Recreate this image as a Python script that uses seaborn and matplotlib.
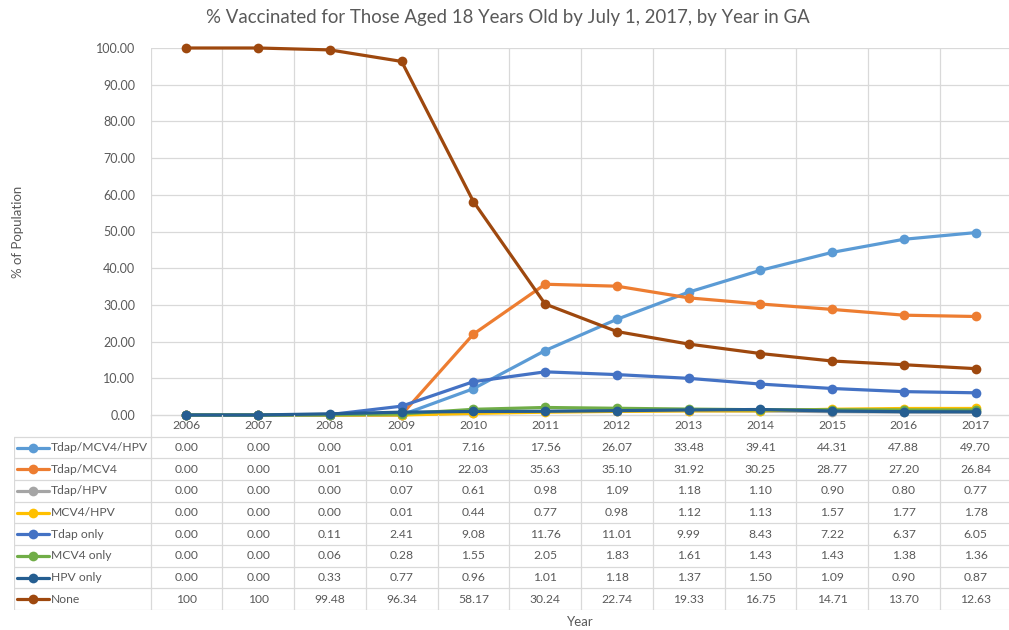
import numpy as np
import pandas as pd
import seaborn as sns
import matplotlib.pyplot as plt

# ---- data -------------------------------------------------------------
years = [2006, 2007, 2008, 2009, 2010, 2011, 2012, 2013, 2014, 2015, 2016, 2017]

tdap_mcv4_hpv = [0.00, 0.00, 0.00, 0.01, 7.16, 17.56, 26.07, 33.48, 39.41, 44.31, 47.88, 49.70]
tdap_mcv4 = [0.00, 0.00, 0.01, 0.10, 22.03, 35.63, 35.10, 31.92, 30.25, 28.77, 27.20, 26.84]
tdap_hpv = [0.00, 0.00, 0.00, 0.07, 0.61, 0.98, 1.09, 1.18, 1.10, 0.90, 0.80, 0.77]
mcv4_hpv = [0.00, 0.00, 0.00, 0.01, 0.44, 0.77, 0.98, 1.12, 1.13, 1.57, 1.77, 1.78]
tdap_only = [0.00, 0.00, 0.11, 2.41, 9.08, 11.76, 11.01, 9.99, 8.43, 7.22, 6.37, 6.05]
mcv4_only = [0.00, 0.00, 0.06, 0.28, 1.55, 2.05, 1.83, 1.61, 1.43, 1.43, 1.38, 1.36]
hpv_only = [0.00, 0.00, 0.33, 0.77, 0.96, 1.01, 1.18, 1.37, 1.50, 1.09, 0.90, 0.87]
none = [100, 100, 99.48, 96.34, 58.17, 30.24, 22.74, 19.33, 16.75, 14.71, 13.70, 12.63]

series_names = ["Tdap/MCV4/HPV", "Tdap/MCV4", "Tdap/HPV", "MCV4/HPV",
                "Tdap only", "MCV4 only", "HPV only", "None"]
series_values = [tdap_mcv4_hpv, tdap_mcv4, tdap_hpv, mcv4_hpv,
                 tdap_only, mcv4_only, hpv_only, none]
series_colors = ["#5B9BD5", "#ED7D31", "#A5A5A5", "#FFC000",
                 "#4472C4", "#70AD47", "#255E91", "#9E480E"]

title = "% Vaccinated for Those Aged 18 Years Old by July 1, 2017, by Year in GA"
y_label = "% of Population"
x_label = "Year"

# ---- style ------------------------------------------------------------
sns.set_theme(style="white")
plt.rcParams['font.family'] = ['Lato', 'DejaVu Sans']
TXT = "#595959"
GRID = "#D9D9D9"
FS_TABLE = 8.7
FS_TICK = 9
FS_LABEL = 9.5

W, H = 1009, 630
fig = plt.figure(figsize=(W / 100, H / 100), dpi=100)

plot_l, plot_r = 150.5, 1011.5
plot_t, plot_b = 48, 415
tab_l, tab_b = 14, 610
ncol = len(years)
colw = (plot_r - plot_l) / ncol

ax = fig.add_axes([plot_l / W, 1 - plot_b / H, (plot_r - plot_l) / W, (plot_b - plot_t) / H])

df = pd.DataFrame({
    "pos": np.tile(np.arange(ncol), len(series_names)),
    "value": np.concatenate(series_values),
    "series": np.repeat(series_names, ncol),
})
palette = dict(zip(series_names, series_colors))
sns.lineplot(data=df, x="pos", y="value", hue="series", hue_order=series_names,
             palette=palette, marker="o", markersize=7, markeredgewidth=0,
             linewidth=2.3, legend=False, sort=False, ax=ax, clip_on=False,
             zorder=3)

ax.set_xlim(-0.5, ncol - 0.5)
ax.set_ylim(0, 100)
ax.set_yticks(np.arange(0, 101, 10))
ax.set_yticklabels([f"{v:.2f}" for v in np.arange(0, 101, 10)], color=TXT, fontsize=FS_TICK)
ax.tick_params(axis="y", length=0, pad=11)
ax.set_xticks([])
ax.set_xlabel("")
ax.set_ylabel("")
for s in ["left", "right", "top"]:
    ax.spines[s].set_visible(False)
ax.spines["bottom"].set_color(GRID)
ax.spines["bottom"].set_linewidth(1.0)
for v in np.arange(10, 101, 10):
    ax.axhline(v, color=GRID, lw=0.9, zorder=0)
for b in np.arange(-0.5, ncol, 1.0):
    ax.axvline(b, color=GRID, lw=0.9, zorder=0)

# ---- data table under the chart --------------------------------------
tax = fig.add_axes([tab_l / W, 1 - tab_b / H, (plot_r - tab_l) / W, (tab_b - plot_b) / H])
x_left = -0.5 - (plot_l - tab_l) / colw
tax.set_xlim(x_left, ncol - 0.5)
nrows = len(series_names) + 1
tax.set_ylim(nrows, 0)
tax.axis("off")


def px2x(px):
    return x_left + (px - tab_l) / colw


for b in np.arange(-0.5, ncol, 1.0):
    tax.plot([b, b], [0, nrows], color=GRID, lw=0.9)
tax.plot([x_left, x_left], [1, nrows], color=GRID, lw=0.9)
for r in range(1, nrows + 1):
    tax.plot([x_left, ncol - 0.5], [r, r], color=GRID, lw=0.9)

for i, y in enumerate(years):
    tax.text(i, 0.5, str(y), ha="center", va="center", color=TXT, fontsize=FS_TABLE)


def fmt(v):
    return f"{v:g}" if v >= 100 else f"{v:.2f}"


for r, (name, vals, col) in enumerate(zip(series_names, series_values, series_colors), start=1):
    yc = r + 0.5
    tax.plot([px2x(17), px2x(49)], [yc, yc], color=col, lw=2.3)
    tax.plot([px2x(33)], [yc], marker="o", color=col, markersize=7, markeredgewidth=0)
    tax.text(px2x(51), yc, name, ha="left", va="center", color=TXT, fontsize=FS_TABLE)
    for i, v in enumerate(vals):
        tax.text(i, yc, fmt(v), ha="center", va="center", color=TXT, fontsize=FS_TABLE)

# ---- titles -----------------------------------------------------------
fig.text(508 / W, 1 - 18 / H, title, ha="center", va="center", color=TXT, fontsize=13.4)
fig.text(18 / W, 1 - 232 / H, y_label, ha="center", va="center", rotation=90,
         color=TXT, fontsize=FS_LABEL)
fig.text(580 / W, 1 - 622 / H, x_label, ha="center", va="center", color=TXT, fontsize=FS_LABEL)

fig.savefig("out.png", dpi=100, facecolor="white")
